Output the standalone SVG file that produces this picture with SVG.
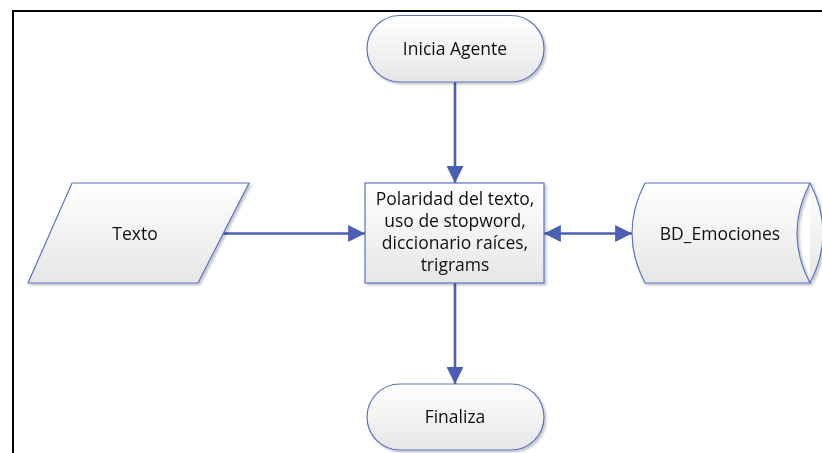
<svg xmlns="http://www.w3.org/2000/svg" width="822" height="453" viewBox="0 0 822 453">
  <defs>
    <linearGradient id="shapeFill" x1="0" y1="0" x2="0" y2="1">
      <stop offset="0" stop-color="#ffffff"/>
      <stop offset="1" stop-color="#e6e6e6"/>
    </linearGradient>
    <filter id="softShadow" x="-10%" y="-10%" width="130%" height="130%">
      <feGaussianBlur in="SourceAlpha" stdDeviation="1.2"/>
      <feOffset dx="2" dy="2" result="b"/>
      <feComponentTransfer><feFuncA type="linear" slope="0.22"/></feComponentTransfer>
      <feMerge><feMergeNode/><feMergeNode in="SourceGraphic"/></feMerge>
    </filter>
    <marker id="arrowEnd" viewBox="0 0 10 10" refX="10" refY="5" markerWidth="6.5" markerHeight="6.5" markerUnits="strokeWidth" orient="auto">
      <path d="M0,0 L10,5 L0,10 Z" fill="#4a5fb4"/>
    </marker>
    <marker id="arrowStart" viewBox="0 0 10 10" refX="0" refY="5" markerWidth="6.5" markerHeight="6.5" markerUnits="strokeWidth" orient="auto">
      <path d="M10,0 L0,5 L10,10 Z" fill="#4a5fb4"/>
    </marker>
  </defs>
  <style>
    .shape { fill: url(#shapeFill); stroke: #5a72c2; stroke-width: 1.2; }
    .label { font-family: "Open Sans", "Liberation Sans", sans-serif; font-size: 17.5px; fill: #111111; text-anchor: middle; }
    .conn { stroke: #4a5fb4; stroke-width: 2.6; fill: none; }
    .frame { stroke: #000000; stroke-width: 2; fill: none; }
  </style>

  <rect width="822" height="453" fill="#ffffff"/>

  <!-- page frame -->
  <path class="frame" d="M13,453 L13,11 L822,11"/>

  <!-- connectors -->
  <g id="connectors">
    <line class="conn" x1="455" y1="82" x2="455" y2="183" marker-end="url(#arrowEnd)"/>
    <line class="conn" x1="222" y1="233.5" x2="365" y2="233.5" marker-end="url(#arrowEnd)"/>
    <line class="conn" x1="544" y1="233.5" x2="632" y2="233.5" marker-start="url(#arrowStart)" marker-end="url(#arrowEnd)"/>
    <line class="conn" x1="455" y1="283" x2="455" y2="384" marker-end="url(#arrowEnd)"/>
  </g>

  <g id="inicia" filter="url(#softShadow)">
    <rect class="shape" x="367" y="15.5" width="177" height="66.5" rx="33" ry="33"/>
    <text class="label" x="455" y="55">Inicia Agente</text>
  </g>

  <g id="texto" filter="url(#softShadow)">
    <polygon class="shape" points="72,183 249,183 198,283 28,283"/>
    <text class="label" x="135" y="239.5">Texto</text>
  </g>

  <g id="proceso" filter="url(#softShadow)">
    <rect class="shape" x="365" y="183" width="179" height="100"/>
    <text class="label" x="455" y="205">Polaridad del texto,</text>
    <text class="label" x="455" y="227">uso de stopword,</text>
    <text class="label" x="455" y="249">diccionario raíces,</text>
    <text class="label" x="455" y="271">trigrams</text>
  </g>

  <g id="bd-emociones" filter="url(#softShadow)">
    <path class="shape" d="M645,183 L810,183 Q784,233 810,283 L645,283 Q619,233 645,183 Z"/>
    <path class="shape" d="M810,183 Q836,233 810,283" fill="none"/>
    <text class="label" x="720" y="240">BD_Emociones</text>
  </g>

  <g id="finaliza" filter="url(#softShadow)">
    <rect class="shape" x="367" y="384" width="177" height="66" rx="33" ry="33"/>
    <text class="label" x="455" y="423">Finaliza</text>
  </g>
</svg>
